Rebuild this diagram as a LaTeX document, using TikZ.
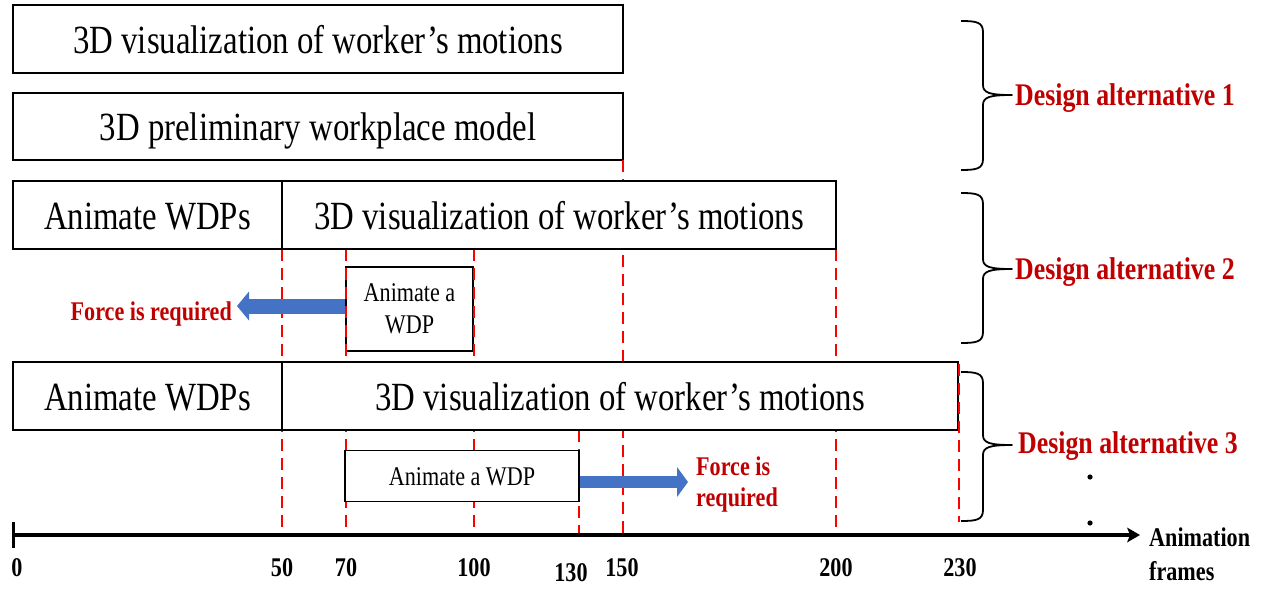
\documentclass[tikz,border=0pt]{standalone}
\usepackage{fontspec}
\setmainfont[FakeStretch=0.82]{Liberation Serif}
\usetikzlibrary{arrows.meta}
\definecolor{labelred}{HTML}{C00000}
\definecolor{pushblue}{HTML}{4472C4}
\begin{document}
\begin{tikzpicture}[x=1pt,y=-1pt,
  box/.style={draw, line width=1.8pt, fill=white, inner sep=0pt,
    font=\fontsize{40}{44}\selectfont, text height=28pt, text depth=0pt,
    minimum height=68pt},
  smallbox/.style={draw, line width=1.8pt, fill=white, inner sep=0pt,
    font=\fontsize{27}{32}\selectfont, align=center},
  guide/.style={red, line width=2.4pt, dash pattern=on 12pt off 7pt},
  force/.style={labelred, font=\bfseries\fontsize{27}{31}\selectfont, inner sep=0pt},
  design/.style={labelred, font=\bfseries\fontsize{31.5}{36}\selectfont, inner sep=0pt, anchor=base west},
  tickl/.style={font=\bfseries\fontsize{27}{34}\selectfont, inner sep=0pt, anchor=base},
  bracepen/.style={line width=1.8pt, line join=round},
  push/.style={pushblue}
]
\useasboundingbox (0,0) rectangle (1261,589);

% design alternative 1
\node[box, minimum width=610pt] (vis1) at (318,39) {3D visualization of worker’s motions};
\node[box, minimum width=610pt, minimum height=67pt] (model1) at (318,126.5) {3D preliminary workplace model};

% single WDP of alternative 2 (lies under the frame guides)
\node[smallbox, minimum width=127pt, minimum height=84pt] (wdp2) at (409.5,309) {Animate a\\WDP};

% frame guides
\foreach \gx/\gy in {282/249, 346/249, 474/249, 579/430, 623/160, 836/249}
  \draw[guide] (\gx,\gy) -- (\gx,535);

% design alternative 2
\node[box, minimum width=269pt] (wdps2) at (147.5,215) {Animate WDPs};
\node[box, minimum width=554pt] (vis2) at (559,215) {3D visualization of worker’s motions};

% design alternative 3
\node[box, minimum width=269pt] (wdps3) at (147.5,396) {Animate WDPs};
\node[box, minimum width=676pt] (vis3) at (620,396) {3D visualization of worker’s motions};
\node[smallbox, text height=18pt, text depth=0pt, minimum width=234pt, minimum height=51pt] (wdp3) at (462,476) {Animate a WDP};
\draw[guide] (959,364) -- (959,522);

% force hints
\node[force, anchor=base east] (force2) at (232,320) {Force is required};
\node[force, anchor=north west, align=left] (force3) at (696,457) {Force is\\required};
\coordinate (tip2) at (237,306);
\coordinate (tip3) at (688,482);
\draw[push, line width=15pt, -{Triangle[length=12pt,width=29pt,line width=0pt]}] (wdp2.west |- tip2) -- (tip2);
\draw[push, line width=12pt, -{Triangle[length=11pt,width=30pt,line width=0pt]}] (wdp3.east |- tip3) -- (tip3);

% braces
\foreach \t/\m/\b in {21/95/170, 193/269/343, 372/445/521}
  \draw[bracepen] (961,\t) .. controls (976,\t) and (983,{\t+1}) .. (983,{\t+11})
    -- (983,{\m-10}) .. controls (983,{\m-2}) and (990,\m) .. (1012,\m)
    .. controls (990,\m) and (983,{\m+2}) .. (983,{\m+10})
    -- (983,{\b-11}) .. controls (983,{\b-1}) and (976,\b) .. (961,\b);
\node[design] (alt1) at (1015,105.4) {Design alternative 1};
\node[design] (alt2) at (1015,279.4) {Design alternative 2};
\node[design] (alt3) at (1018,453.4) {Design alternative 3};
\fill (1090,477) circle (2.6pt);
\fill (1090,523) circle (2.6pt);

% frame axis
\coordinate (ax0) at (13,535);
\coordinate (axend) at (1140,535);
\draw[line width=3.5pt, -{Stealth[length=13pt,width=15pt,inset=3pt,line width=0pt]}] (ax0) -- (axend);
\draw[line width=3pt] (13,522) -- (13,548);
\node[tickl] (f0) at (17,576) {0};
\node[tickl] (f50) at (282,576) {50};
\node[tickl] (f70) at (346,576) {70};
\node[tickl] (f100) at (474,576) {100};
\node[tickl] (f130) at (571,581) {130};
\node[tickl] (f150) at (622,576) {150};
\node[tickl] (f200) at (836,576) {200};
\node[tickl] (f230) at (960,576) {230};
\node[tickl, anchor=north west, align=left] (axname) at (1149,528) {Animation\\frames};
\end{tikzpicture}
\end{document}
